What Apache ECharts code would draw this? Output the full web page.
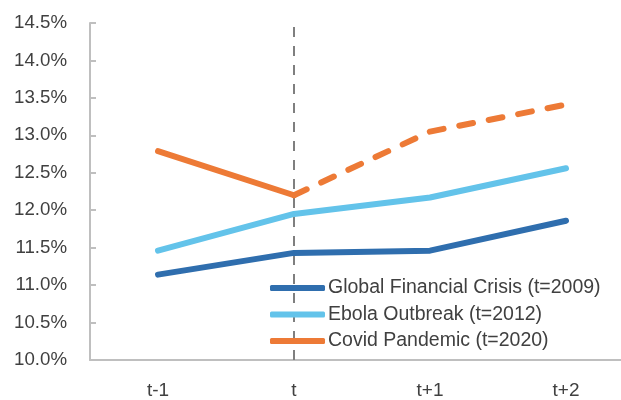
<!DOCTYPE html>
<html>
<head>
<meta charset="utf-8">
<script src="https://cdn.jsdelivr.net/npm/echarts@6/dist/echarts.min.js"></script>
<style>
  html, body { margin: 0; padding: 0; background: #fff; overflow: hidden; }
  /* plot area runs slightly past the right edge of the window */
  #chart { width: 634px; height: 400px; }
</style>
</head>
<body>
<div id="chart"></div>
<script>
// Horizon relative to the shock year t
const periods = ['t-1', 't', 't+1', 't+2'];

// Rates in percent
const gfc = [11.14, 11.43, 11.46, 11.86];
const ebola = [11.46, 11.95, 12.17, 12.56];
// Covid: observed part (solid) and projected part (dashed)
const covidObserved = [12.79, 12.20, null, null];
const covidProjected = [null, 12.20, 13.05, 13.41];

const yMin = 10.0, yMax = 14.5, yStep = 0.5;

const seriesNames = ['Global Financial Crisis (t=2009)', 'Ebola Outbreak (t=2012)', 'Covid Pandemic (t=2020)'];
const colors = ['#2f6eae', '#63c3ea', '#ed7a36'];

const textColor = '#404040';
const fontFamily = 'Liberation Sans, Arial, sans-serif';

const lineBase = (color, dash) => ({
  color: color,
  width: 6,
  cap: 'round',
  join: 'round',
  type: dash || 'solid'
});

const chart = echarts.init(document.getElementById('chart'));
chart.setOption({
  animation: false,
  grid: { left: 90, right: 0, top: 23, bottom: 37.5, containLabel: false },
  legend: {
    data: seriesNames,
    orient: 'vertical',
    left: 265,
    top: 273,
    itemWidth: 55,
    itemHeight: 6,
    itemGap: 6.5,
    icon: 'roundRect',
    textStyle: { color: textColor, fontSize: 19.5, lineHeight: 20, fontFamily: fontFamily, padding: [0, 0, 0, -2] }
  },
  xAxis: {
    type: 'category',
    data: periods,
    boundaryGap: true,
    axisLine: { lineStyle: { color: '#bfbfbf', width: 2 } },
    axisTick: { show: false },
    axisLabel: { color: textColor, fontSize: 19, fontFamily: fontFamily, margin: 21 },
    splitLine: { show: false }
  },
  yAxis: {
    type: 'value',
    min: yMin,
    max: yMax,
    interval: yStep,
    axisLine: { show: true, lineStyle: { color: '#bfbfbf', width: 2 } },
    axisTick: { show: true, inside: true, length: 6, lineStyle: { color: '#bfbfbf', width: 2 } },
    axisLabel: {
      color: textColor, fontSize: 18.7, fontFamily: fontFamily, margin: 23,
      formatter: v => v.toFixed(1) + '%'
    },
    splitLine: { show: false }
  },
  series: [
    {
      name: seriesNames[0], type: 'line', data: gfc, z: 3,
      showSymbol: false, symbol: 'none',
      itemStyle: { color: colors[0] },
      lineStyle: lineBase(colors[0]),
      markLine: {
        silent: true,
        symbol: 'none',
        label: { show: false },
        lineStyle: { color: '#7f7f7f', width: 2, type: [10, 9] },
        data: [{ xAxis: 't' }],
        z: 1
      }
    },
    {
      name: seriesNames[1], type: 'line', data: ebola, z: 3,
      showSymbol: false, symbol: 'none',
      itemStyle: { color: colors[1] },
      lineStyle: lineBase(colors[1])
    },
    {
      name: seriesNames[2], type: 'line', data: covidObserved, z: 3,
      showSymbol: false, symbol: 'none', connectNulls: false,
      itemStyle: { color: colors[2] },
      lineStyle: lineBase(colors[2])
    },
    {
      name: 'Covid projected', type: 'line', data: covidProjected, z: 3,
      showSymbol: false, symbol: 'none', connectNulls: false,
      itemStyle: { color: colors[2] },
      lineStyle: lineBase(colors[2], [14, 16])
    }
  ]
});
</script>
</body>
</html>
